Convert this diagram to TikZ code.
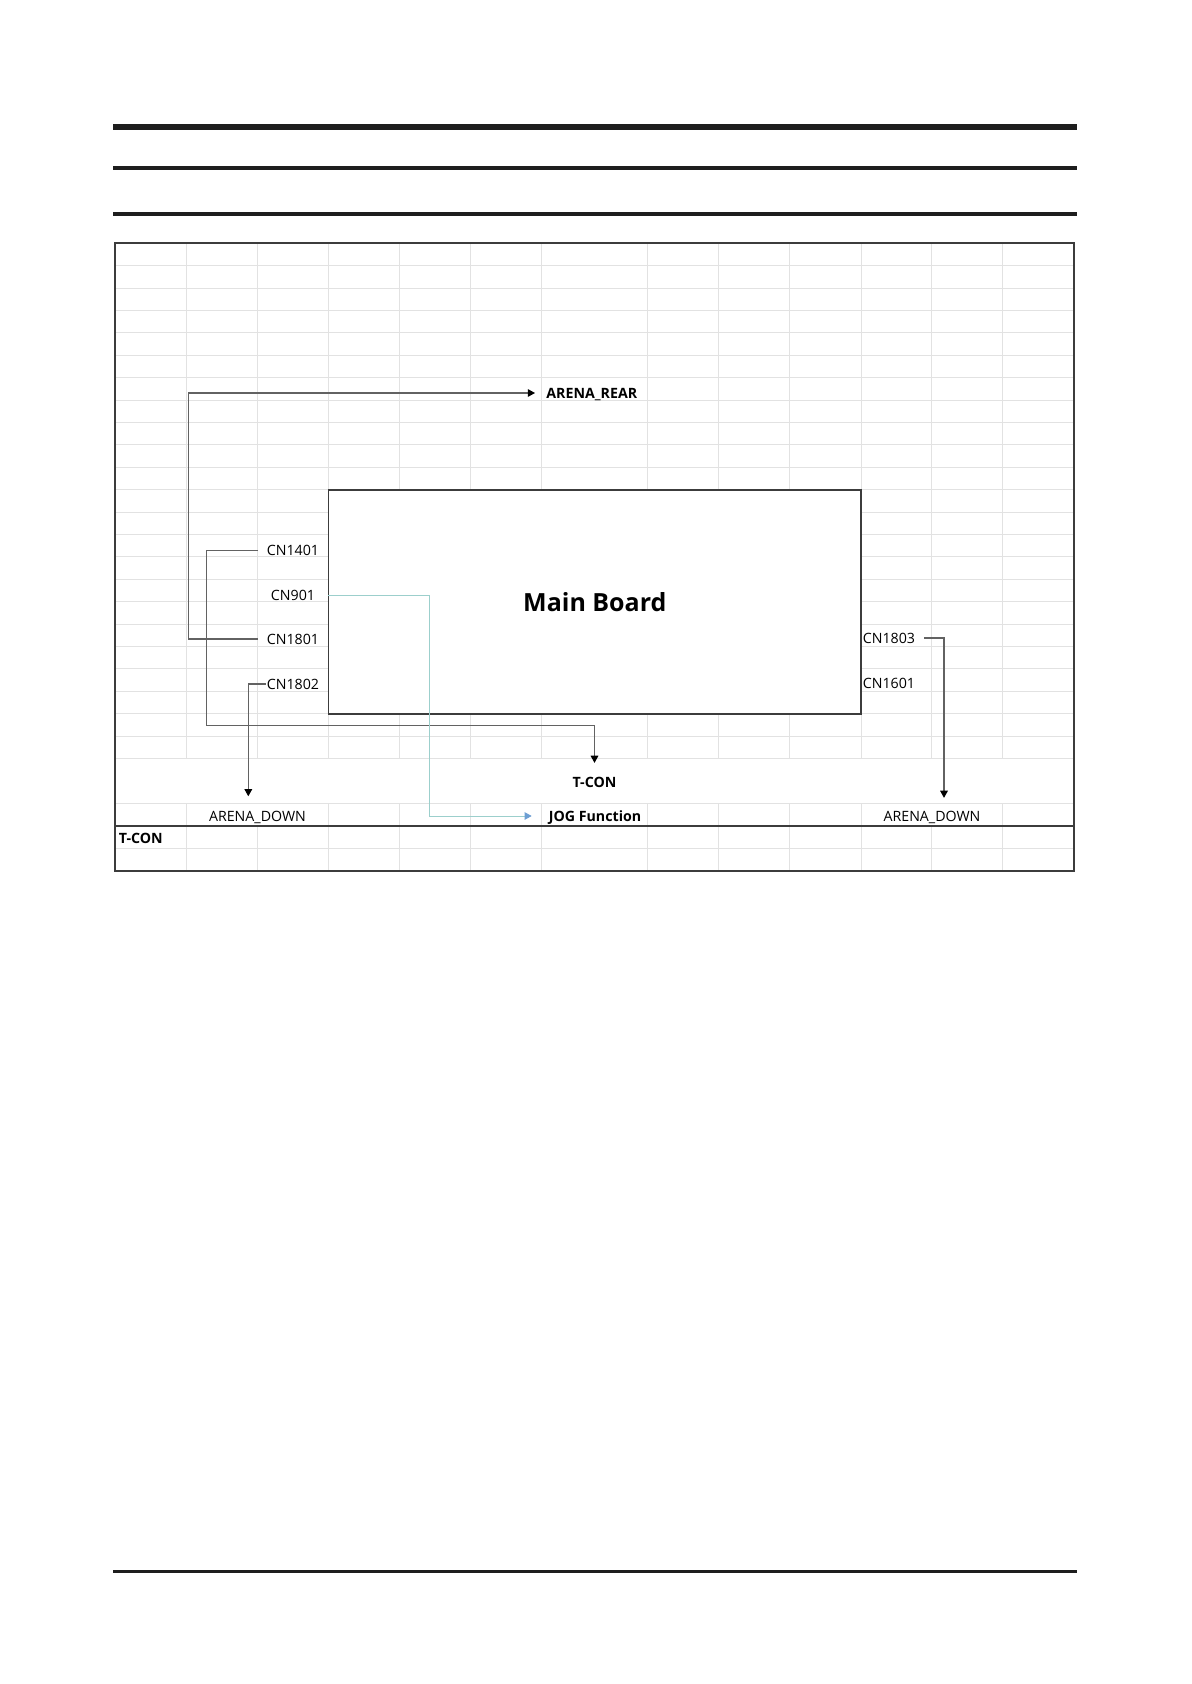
\documentclass[tikz,border=0pt]{standalone}
\usepackage{fontspec}
\setmainfont{Open Sans}
\usetikzlibrary{arrows.meta}
\definecolor{rulecol}{HTML}{1E1E1E}
\definecolor{gridgray}{HTML}{E2E2E2}
\definecolor{framegray}{HTML}{3C3C3C}
\definecolor{wiregray}{HTML}{626262}
\definecolor{jogteal}{HTML}{9CCFCC}
\definecolor{jogblue}{HTML}{6D9ED3}
\tikzset{
	gridline/.style={draw=gridgray, line width=0.5pt},
	wire/.style={draw=wiregray, line width=0.65pt, -{Triangle[length=3.6pt,width=3.8pt,color=black]}},
	jogwire/.style={draw=jogteal, line width=0.5pt, -{Triangle[length=3.6pt,width=3.8pt,color=jogblue]}},
	lbl/.style={inner sep=0pt, text height=5.1pt, text depth=0pt, font=\fontsize{7.1}{8.5}\selectfont},
	blbl/.style={lbl, font=\fontsize{7.1}{8.5}\selectfont\bfseries},
}
\begin{document}
\begin{tikzpicture}[x=0.5pt,y=-0.5pt]
		\useasboundingbox (0,0) rectangle (1191,1684);

		%page rules
		\draw[rulecol, line width=3pt] (113,127) -- (1077,127);
		\draw[rulecol, line width=2pt] (113,168) -- (1077,168);
		\draw[rulecol, line width=2pt] (113,214) -- (1077,214);
		\draw[rulecol, line width=1.7pt] (113,1571.5) -- (1077,1571.5);

		%grid
		\foreach \k in {1,...,23}{
			\draw[gridline] (115,{243.3+22.4*\k}) -- (1074,{243.3+22.4*\k});
		}
		\draw[gridline] (115,803.3) -- (1074,803.3);
		\draw[gridline] (115,848.1) -- (1074,848.1);
		\foreach \x in {186.7,328.7,399.7,470.7,541.7,647.0,718.4,789.8,861.0,1002.7}{
			\draw[gridline] (\x,243.3) -- (\x,758.5);
			\draw[gridline] (\x,803.3) -- (\x,870.5);
		}
		\foreach \x in {257.7,931.8}{
			\draw[gridline] (\x,243.3) -- (\x,758.5);
			\draw[gridline] (\x,825.7) -- (\x,870.5);
		}

		%frame
		\draw[framegray, line width=1pt] (115,243.3) rectangle (1074,870.5);
		\draw[framegray, line width=1pt] (115,825.7) -- (1074,825.7);

		%main board
		\node[draw=framegray, line width=0.8pt, fill=white, minimum width=266.2pt, minimum height=112pt, inner sep=0pt, font=\fontsize{12.5}{14}\selectfont\bfseries] (board) at (594.85,601.7) {Main Board};

		%connector names
		\node[lbl] (cn1401) at (293,550.5) {CN1401};
		\node[lbl] (cn901) at (293,595) {CN901};
		\node[lbl] (cn1801) at (293,639) {CN1801};
		\node[lbl] (cn1802) at (293,684) {CN1802};
		\node[lbl, anchor=west] (cn1803) at (862.5,638) {CN1803};
		\node[lbl, anchor=west] (cn1601) at (862.5,683.5) {CN1601};

		%targets
		\node[blbl, anchor=west] (rear) at (546,393) {ARENA\_REAR};
		\node[blbl] (tcon) at (594.5,782) {T-CON};
		\node[blbl, anchor=west] (jog) at (548.5,816) {JOG Function};
		\node[lbl] (downl) at (257.5,816) {ARENA\_DOWN};
		\node[lbl] (downr) at (932,816) {ARENA\_DOWN};
		\node[blbl, anchor=west] (tconrow) at (118.5,838) {T-CON};

		%wires
		\draw[wire, shorten >=5.5pt] ([xshift=-4.2pt]cn1801.west) -- ++(-69.3,0) |- (rear.west);
		\draw[wire] ([xshift=-4.2pt]cn1401.west) -- ++(-51.6,0) -- ++(0,175) -| ([yshift=6.8pt]tcon.north);
		\draw[jogwire, shorten >=8.4pt] (cn901.east -| board.west) -- ++(101.4,0) |- (jog.west);
		\draw[wire] ([xshift=-0.5pt]cn1802.west) -| ([xshift=-4.6pt,yshift=7.1pt]downl.north);
		\draw[wire] ([xshift=4.5pt]cn1803.east) -| ([xshift=6pt,yshift=6.3pt]downr.north);

	\end{tikzpicture}
\end{document}
